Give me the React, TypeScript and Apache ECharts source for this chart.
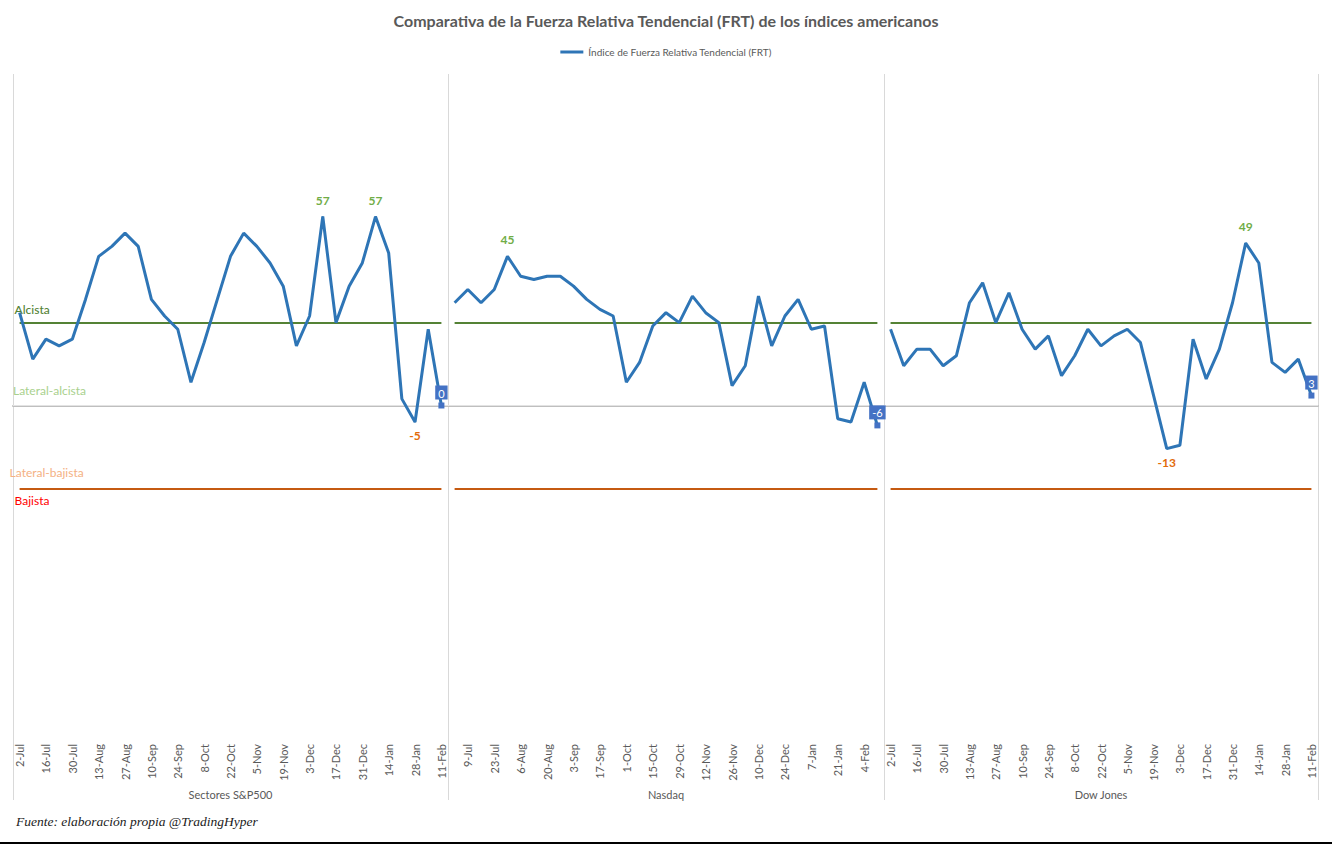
import React, { useEffect, useRef } from 'react';
import * as echarts from 'echarts';

const weeks = ['2-Jul','9-Jul','16-Jul','23-Jul','30-Jul','6-Aug','13-Aug','20-Aug','27-Aug','3-Sep','10-Sep','17-Sep','24-Sep','1-Oct','8-Oct','15-Oct','22-Oct','29-Oct','5-Nov','12-Nov','19-Nov','26-Nov','3-Dec','10-Dec','17-Dec','24-Dec','31-Dec','7-Jan','14-Jan','21-Jan','28-Jan','4-Feb','11-Feb'];

const groups = ['Sectores S&P500', 'Nasdaq', 'Dow Jones'];

const sp500 = [28, 14, 20, 18, 20, 32, 45, 48, 52, 48, 32, 27, 23, 7, 19, 32, 45, 52, 48, 43, 36, 18, 27, 57, 25, 36, 43, 57, 46, 2, -5, 23, 0];
const nasdaq = [31, 35, 31, 35, 45, 39, 38, 39, 39, 36, 32, 29, 27, 7, 13, 24, 28, 25, 33, 28, 25, 6, 12, 33, 18, 27, 32, 23, 24, -4, -5, 7, -6];
const dow = [23, 12, 17, 17, 12, 15, 31, 37, 25, 34, 23, 17, 21, 9, 15, 23, 18, 21, 23, 19, 3, -13, -12, 20, 8, 17, 31, 49, 43, 13, 10, 14, 3];

const alcistaLevel = 25;
const bajistaLevel = -25;
const zeroLevel = 0;

const seriesName = 'Índice de Fuerza Relativa Tendencial (FRT)';
const FONT = 'Lato, Carlito, Calibri, sans-serif';

const gridBoxes = [
  { left: 13, width: 435 },
  { left: 448, width: 436 },
  { left: 884, width: 434 },
];
const PLOT_TOP = 74;
const PLOT_H = 663;

function buildData(values: number[]) {
  const mx = Math.max(...values);
  const mn = Math.min(...values);
  const last = values.length - 1;
  return values.map((v, i) => {
    if (i === last) {
      return {
        value: v,
        symbol: 'rect',
        symbolSize: 6,
        itemStyle: { color: '#4472c4' },
        label: {
          show: true,
          position: 'top',
          distance: 3,
          backgroundColor: '#4472c4',
          color: '#ffffff',
          padding: [2, 3, 1, 3],
          fontSize: 11,
          fontFamily: FONT,
        },
      };
    }
    if (v === mx) {
      return {
        value: v,
        symbol: 'circle',
        symbolSize: 1,
        label: { show: true, position: 'top', distance: 10, color: '#70ad47', fontWeight: 'bold', fontSize: 12, fontFamily: FONT },
      };
    }
    if (v === mn) {
      return {
        value: v,
        symbol: 'circle',
        symbolSize: 1,
        label: { show: true, position: 'bottom', distance: 7, color: '#e26b0a', fontWeight: 'bold', fontSize: 12, fontFamily: FONT },
      };
    }
    return v;
  });
}

export default function App() {
  const ref = useRef<HTMLDivElement>(null);
  useEffect(() => {
    if (!ref.current) return;
    const chart = echarts.init(ref.current, null, { renderer: 'svg' });
    const all = [sp500, nasdaq, dow];

    const grids = gridBoxes.map((g) => ({ left: g.left, width: g.width, top: PLOT_TOP, height: PLOT_H }));

    const xAxes = gridBoxes.map((_, i) => ({
      type: 'category',
      gridIndex: i,
      data: weeks,
      boundaryGap: true,
      axisLine: { show: true, lineStyle: { color: '#bfbfbf', width: 2 } },
      axisTick: { show: false },
      axisLabel: {
        rotate: 90,
        fontSize: 11,
        color: '#595959',
        fontFamily: FONT,
        margin: 7,
        interval: i === 1 ? (idx: number) => idx % 2 === 1 : (idx: number) => idx % 2 === 0,
      },
      name: groups[i],
      nameLocation: 'middle',
      nameGap: 52,
      nameTextStyle: { color: '#595959', fontSize: 11, fontFamily: FONT },
    }));

    const yAxes = gridBoxes.map((_, i) => ({
      type: 'value',
      gridIndex: i,
      min: -100,
      max: 100,
      show: false,
      splitLine: { show: false },
    }));

    const series = all.map((vals, i) => {
      const first = weeks[0];
      const lastW = weeks[weeks.length - 1];
      const isFirst = i === 0;
      return {
        type: 'line',
        name: seriesName,
        xAxisIndex: i,
        yAxisIndex: i,
        data: buildData(vals),
        symbol: 'none',
        showSymbol: true,
        lineStyle: { color: '#2e75b6', width: 3 },
        itemStyle: { color: '#2e75b6' },
        z: 5,
        markLine: {
          silent: true,
          symbol: ['none', 'none'],
          animation: false,
          z: 3,
          data: [
            {
              yAxis: zeroLevel,
              lineStyle: { color: '#e3e3e3', width: 1, type: 'solid' },
              label: isFirst
                ? { show: true, position: 'insideStartTop', formatter: 'Lateral-alcista', color: '#a9d18e', fontSize: 12, fontFamily: FONT, distance: [0, 9] }
                : { show: false },
            },
            [
              {
                coord: [first, alcistaLevel],
                lineStyle: { color: '#548235', width: 2, type: 'solid' },
                label: isFirst
                  ? { show: true, position: 'insideStartTop', formatter: 'Alcista', color: '#548235', fontSize: 12, fontWeight: 500, fontFamily: FONT, distance: [-5, 7] }
                  : { show: false },
              },
              { coord: [lastW, alcistaLevel] },
            ],
            [
              {
                coord: [first, bajistaLevel],
                lineStyle: { color: '#c55a11', width: 2, type: 'solid' },
                label: isFirst
                  ? { show: true, position: 'insideStartBottom', formatter: 'Bajista', color: '#ff0000', fontSize: 12, fontFamily: FONT, distance: [-5, 6] }
                  : { show: false },
              },
              { coord: [lastW, bajistaLevel] },
            ],
            [
              {
                coord: [first, bajistaLevel],
                lineStyle: { color: 'rgba(255,255,255,0)', width: 1, type: 'solid' },
                label: isFirst
                  ? { show: true, position: 'insideStartTop', formatter: 'Lateral-bajista', color: '#f4b183', fontSize: 12, fontFamily: FONT, distance: [-10, 10] }
                  : { show: false },
              },
              { coord: [lastW, bajistaLevel] },
            ],
          ],
        },
      };
    });

    const sepXs = [13.5, 448.5, 884.5, 1318.5];
    const graphic: any[] = sepXs.map((x) => ({
      type: 'line',
      shape: { x1: x, y1: PLOT_TOP, x2: x, y2: 800 },
      style: { stroke: '#d9d9d9', lineWidth: 1 },
      silent: true,
    }));
    graphic.push({
      type: 'text',
      left: 16,
      top: 814,
      style: {
        text: 'Fuente: elaboración propia @TradingHyper',
        fontFamily: '"Liberation Serif", "DejaVu Serif", serif',
        fontStyle: 'italic',
        fontSize: 13.5,
        fill: '#1a1a1a',
      },
    });
    graphic.push({
      type: 'rect',
      shape: { x: 0, y: 842, width: 1332, height: 2 },
      style: { fill: '#000000' },
      silent: true,
    });

    chart.setOption({
      animation: false,
      backgroundColor: '#ffffff',
      title: {
        text: 'Comparativa de la Fuerza Relativa Tendencial (FRT) de los índices americanos',
        left: 'center',
        top: 7,
        textStyle: { fontSize: 16, fontWeight: 'bold', color: '#595959', fontFamily: FONT },
      },
      legend: {
        data: [{ name: seriesName, icon: 'rect' }],
        top: 42,
        left: 'center',
        itemWidth: 23,
        itemHeight: 3,
        itemGap: 4,
        textStyle: { fontSize: 10, color: '#595959', fontFamily: FONT },
      },
      grid: grids,
      xAxis: xAxes,
      yAxis: yAxes,
      series,
      graphic,
    });
    return () => chart.dispose();
  }, []);
  return <div ref={ref} style={{ position: 'fixed', left: 0, top: 0, width: 1332, height: 844, background: '#fff' }} />;
}
